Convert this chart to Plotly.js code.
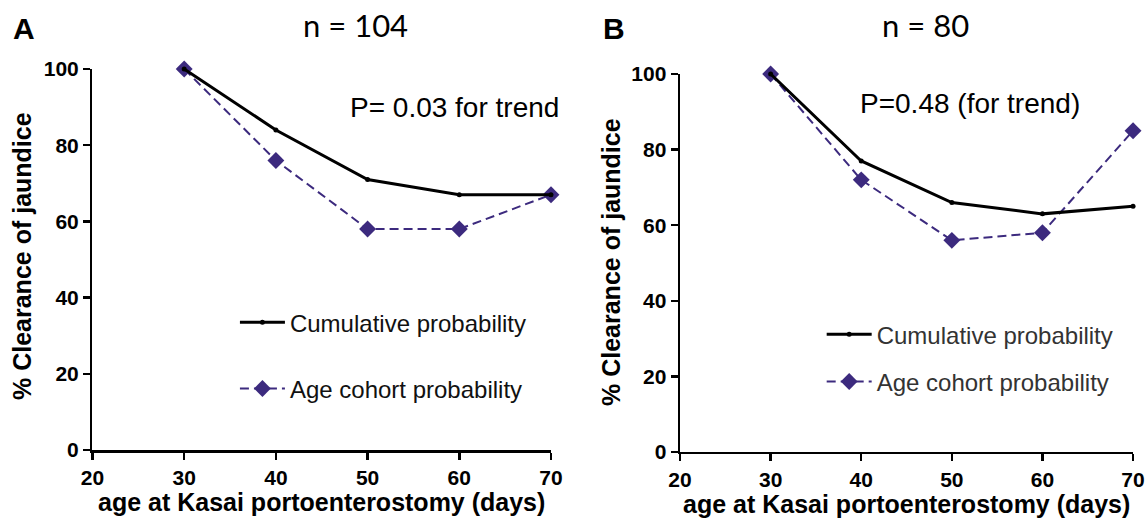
<!DOCTYPE html>
<html><head><meta charset="utf-8">
<script src="https://cdn.plot.ly/plotly-3.0.1.min.js"></script>
<style>html,body{margin:0;padding:0;background:#fff}#chart{width:1146px;height:522px}</style>
</head><body><div id="chart"></div>
<script>
const ages = [30, 40, 50, 60, 70];
const cumulativeA = [100, 84, 71, 67, 67];
const cohortA = [100, 76, 58, 58, 67];
const cumulativeB = [100, 77, 66, 63, 65];
const cohortB = [100, 72, 56, 58, 85];
const xTicks = [20, 30, 40, 50, 60, 70];
const yTicks = [0, 20, 40, 60, 80, 100];
const seriesNames = ['Cumulative probability', 'Age cohort probability'];

const purple = '#3c2a7e';
function cumTrace(y, xa, ya, leg) {
  return {x: ages, y: y, xaxis: xa, yaxis: ya, legend: leg, legendgroup: 'a' + leg, legendrank: 1,
    name: seriesNames[0], mode: 'lines+markers', cliponaxis: false,
    line: {color: '#000', width: 3}, marker: {color: '#000', size: 5}};
}
function cohTrace(y, xa, ya, leg) {
  return {x: ages, y: y, xaxis: xa, yaxis: ya, legend: leg, legendgroup: 'b' + leg, legendrank: 2,
    name: seriesNames[1], mode: 'lines+markers', cliponaxis: false,
    line: {color: purple, width: 2, dash: '9px,5px'},
    marker: {color: purple, size: 13, symbol: 'diamond'}};
}
const data = [
  cohTrace(cohortA, 'x', 'y', 'legend'),
  cumTrace(cumulativeA, 'x', 'y', 'legend'),
  cohTrace(cohortB, 'x2', 'y2', 'legend2'),
  cumTrace(cumulativeB, 'x2', 'y2', 'legend2')
];
const tickFont = {family: 'Liberation Sans, Arial, sans-serif', size: 21, color: '#000', weight: 'bold'};
function xax(domain, anchor) {
  return {domain: domain, anchor: anchor, range: [20, 70], tickvals: xTicks, ticks: 'outside',
    ticklen: 7, tickwidth: 2.5, tickcolor: '#000', showline: true, linewidth: 2.5, linecolor: '#000',
    showgrid: false, zeroline: false, tickfont: tickFont, fixedrange: true};
}
function yax(domain, anchor) {
  return {domain: domain, anchor: anchor, range: [0, 100], tickvals: yTicks, ticks: 'outside',
    ticklen: 7, tickwidth: 2.5, tickcolor: '#000', showline: true, linewidth: 2.5, linecolor: '#000',
    showgrid: false, zeroline: false, tickfont: tickFont, fixedrange: true};
}
const legFont = {family: 'Liberation Sans, Arial, sans-serif', size: 24, color: '#111'};
const titleFont = {family: 'Liberation Sans, Arial, sans-serif', size: 25, color: '#000', weight: 'bold'};
const layout = {
  width: 1146, height: 522,
  margin: {l: 0, r: 0, t: 0, b: 0},
  paper_bgcolor: '#fff', plot_bgcolor: '#fff',
  showlegend: true,
  xaxis: xax([0.0807, 0.4808], 'y'),
  yaxis: yax([0.1379, 0.8678], 'x'),
  xaxis2: xax([0.5934, 0.9887], 'y2'),
  yaxis2: yax([0.1341, 0.8582], 'x2'),
  legend: {x: 0.205, y: 0.425, xanchor: 'left', yanchor: 'top', xref: 'paper', yref: 'paper',
    bgcolor: 'rgba(0,0,0,0)', font: legFont, traceorder: 'grouped', tracegroupgap: 32, itemwidth: 45},
  legend2: {x: 0.717, y: 0.402, xanchor: 'left', yanchor: 'top', xref: 'paper', yref: 'paper',
    bgcolor: 'rgba(0,0,0,0)', font: {family: 'Liberation Sans, Arial, sans-serif', size: 24, color: '#333'},
    traceorder: 'grouped', tracegroupgap: 13, itemwidth: 45},
  annotations: [
    {text: 'A', x: 24, y: 28},
    {text: 'B', x: 614, y: 28},
    {text: 'n = 104', x: 355, y: 25},
    {text: 'n = 80', x: 925, y: 25},
    {text: 'P= 0.03 for trend', x: 454, y: 108},
    {text: 'P=0.48 (for trend)', x: 970, y: 103},
    {text: '% Clearance of jaundice', x: 22, y: 256, rot: -90},
    {text: '% Clearance of jaundice', x: 611, y: 262, rot: -90},
    {text: 'age at Kasai portoenterostomy (days)', x: 321, y: 502},
    {text: 'age at Kasai portoenterostomy (days)', x: 906, y: 504}
  ].map(function (a) {
    let font;
    if (a.text === 'A' || a.text === 'B') font = {family: 'Liberation Sans, Arial, sans-serif', size: 30, weight: 'bold', color: '#000'};
    else if (a.text.indexOf('n =') === 0) font = {family: 'Lato, Open Sans, sans-serif', size: 31, color: '#000'};
    else if (a.text.indexOf('P=') === 0) font = {family: 'Liberation Sans, Arial, sans-serif', size: 28, color: '#000'};
    else font = titleFont;
    return {text: a.text, x: a.x / 1146, y: 1 - a.y / 522, xref: 'paper', yref: 'paper',
      xanchor: 'center', yanchor: 'middle', showarrow: false, textangle: a.rot || 0, font: font};
  })
};
Plotly.newPlot('chart', data, layout, {displayModeBar: false, staticPlot: true});
</script></body></html>
